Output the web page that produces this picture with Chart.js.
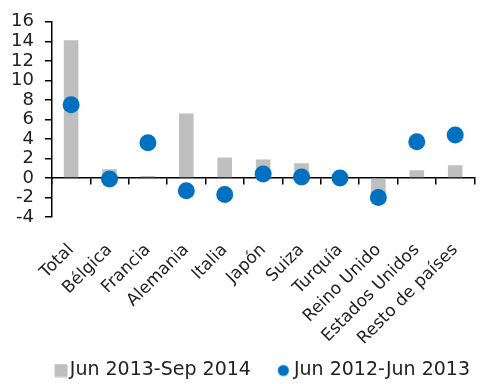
<!DOCTYPE html>
<html>
<head>
<meta charset="utf-8">
<script src="https://cdn.jsdelivr.net/npm/chart.js@4"></script>
<style>
  body { margin: 0; background: #fff; }
  #wrap { width: 485px; height: 384px; }
</style>
</head>
<body>
<div id="wrap"><canvas id="chart" width="485" height="384"></canvas></div>
<script>
const categories = ["Total", "Bélgica", "Francia", "Alemania", "Italia", "Japón", "Suiza", "Turquía", "Reino Unido", "Estados Unidos", "Resto de países"];
const barValues = [14.1, 0.9, 0.2, 6.6, 2.1, 1.9, 1.5, 0.0, -1.6, 0.8, 1.3];
const dotValues = [7.5, -0.1, 3.6, -1.3, -1.7, 0.4, 0.1, 0.0, -2.0, 3.7, 4.4];
const seriesNames = ["Jun 2013-Sep 2014", "Jun 2012-Jun 2013"];

const barColor = "#bfbfbf";
const dotColor = "#0070c0";

Chart.defaults.font.family = "'DejaVu Sans', sans-serif";
Chart.defaults.font.size = 18;
Chart.defaults.color = "#222";

// small legend markers, offset inside their image so the gaps match the original
function legendMarker(kind) {
    const c = document.createElement("canvas");
    c.width = kind === "rect" ? 36 : 30;
    c.height = 14;
    const g = c.getContext("2d");
    if (kind === "rect") {
        g.fillStyle = barColor;
        g.fillRect(22.5, 0.5, 13, 13);
    } else {
        g.fillStyle = dotColor;
        g.beginPath();
        g.arc(24.2, 7, 5.6, 0, Math.PI * 2);
        g.fill();
    }
    return c;
}
const markers = [legendMarker("rect"), legendMarker("circle")];

const ctx = document.getElementById("chart").getContext("2d");
new Chart(ctx, {
    type: "bar",
    data: {
        labels: categories,
        datasets: [{
            label: seriesNames[0],
            data: barValues,
            backgroundColor: barColor,
            barPercentage: 0.38,
            categoryPercentage: 1,
            order: 1
        }, {
            type: "line",
            label: seriesNames[1],
            data: dotValues,
            showLine: false,
            pointRadius: 8.5,
            pointHoverRadius: 8.5,
            pointBackgroundColor: dotColor,
            pointBorderWidth: 0,
            borderColor: dotColor,
            backgroundColor: dotColor,
            pointStyle: "circle",
            order: 0
        }]
    },
    options: {
        responsive: false,
        animation: false,
        layout: { padding: { left: 0, right: 2, top: 8, bottom: -6 } },
        plugins: {
            tooltip: { enabled: false },
            legend: {
                position: "bottom",
                align: "end",
                labels: {
                    usePointStyle: true,
                    pointStyleWidth: 20.5,
                    boxHeight: 12,
                    padding: 13,
                    font: { size: 19 },
                    sort: (a, b) => a.datasetIndex - b.datasetIndex,
                    generateLabels: (chart) => {
                        const items = Chart.defaults.plugins.legend.labels.generateLabels(chart);
                        items.forEach(it => { it.pointStyle = markers[it.datasetIndex]; });
                        return items;
                    }
                }
            }
        },
        scales: {
            x: {
                offset: true,
                grid: { display: false },
                border: { display: false },
                ticks: { minRotation: 45, maxRotation: 45, padding: 15, autoSkip: false, font: { size: 17 } },
                afterFit: (scale) => { scale.height = 131; }
            },
            x2: {
                type: "category",
                labels: categories,
                position: { y: 0 },
                offset: true,
                grid: { offset: true, drawOnChartArea: false, tickLength: 6, color: "#000", lineWidth: 1.5 },
                border: { display: true, color: "#000", width: 1.5 },
                ticks: { display: false }
            },
            y: {
                min: -4,
                max: 16,
                ticks: { stepSize: 2, padding: 11, autoSkip: false },
                grid: { drawOnChartArea: false, tickLength: 7, color: "#000", lineWidth: 1.5 },
                border: { color: "#000", width: 1.5 }
            }
        }
    }
});
</script>
</body>
</html>
